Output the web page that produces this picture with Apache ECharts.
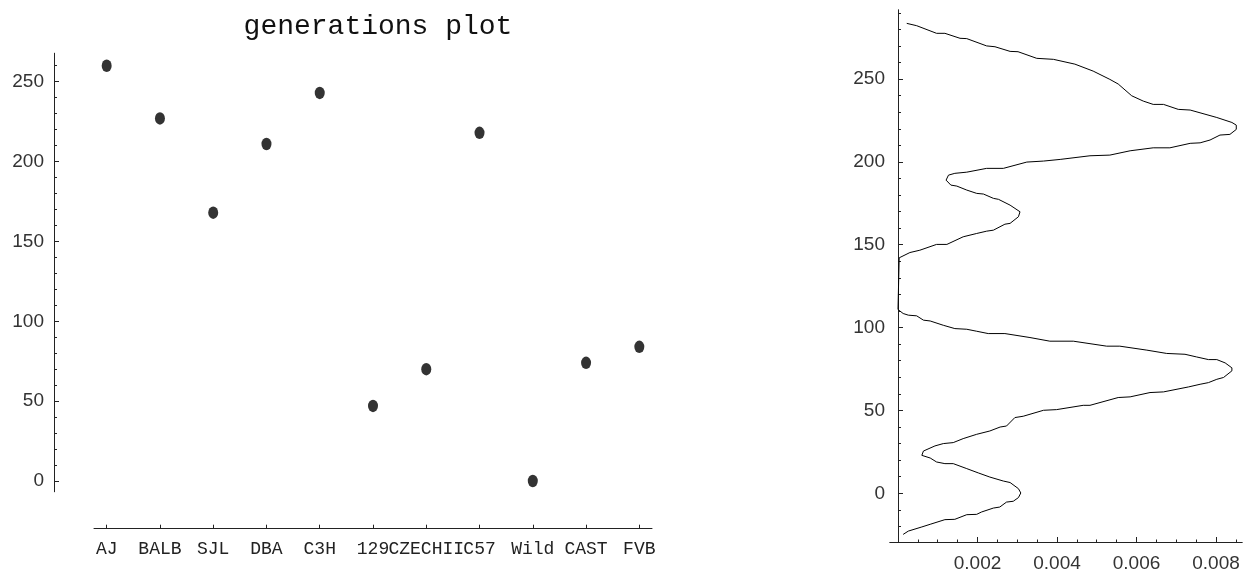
<!DOCTYPE html>
<html>
<head>
<meta charset="utf-8">
<script src="https://cdn.jsdelivr.net/npm/echarts@6/dist/echarts.min.js"></script>
<style>
html,body{margin:0;padding:0;background:#fff;}
#chart{width:1248px;height:573px;}
</style>
</head>
<body>
<div id="chart"></div>
<script>
// ---- data ----
const categories = ['AJ','BALB','SJL','DBA','C3H','129','CZECHII','C57','Wild','CAST','FVB'];
const generations = [260, 227, 168, 211, 243, 47, 70, 218, 0, 74, 84];

const leftYTicks = [0, 50, 100, 150, 200, 250];
const rightYTicks = [0, 50, 100, 150, 200, 250];
const rightXTicks = [0.002, 0.004, 0.006, 0.008];

// density curve (generation value, density)
const densityGen = [283.6,282.2,277.6,277.6,274.6,274.4,270,269.5,266.7,266.5,262.5,261.9,259,254.8,249.8,247,239.9,236.7,234.7,234.7,231.7,231.3,226.8,223.8,222.2,219.6,216.6,216.2,213.2,211.5,211.2,208.5,208.5,206.7,204.1,203.7,201.5,200.5,199.9,196.1,196.1,193.8,193.1,192,189,186,185.4,183,181,180.6,178,177.4,173.9,169.9,166.9,162.9,162.4,158.8,158.2,156.8,154.8,150.2,150.2,146.7,145.3,142.1,
110.9,108.5,107.5,107.1,104.5,104,101.4,99.4,99,97.8,96.4,96.4,94,91.8,91.8,88.8,88.8,86.4,84.4,83.9,82.3,80.7,80.7,78.7,75.7,73.9,69.9,68.8,66.8,65.8,64.2,61.2,60.8,58.2,57.8,53.1,53.1,50.5,50.1,46.5,45.7,40.6,40,37.6,35.6,33,30.6,30,28.6,25.5,22.9,21.3,18.9,17.9,17.9,14.9,12.3,9.8,7.4,6.5,2.8,0.2,-2.6,-4.8,-5.3,-8.3,-8.9,-11.3,-12.7,-12.9,-15.7,-15.9,-18.7,-20.3,-22.8,-24.8];
const densityVal = [0.00022,0.00047,0.00097,0.00118,0.00156,0.00173,0.00223,0.00244,0.00282,0.00302,0.00349,0.00391,0.00445,0.00491,0.00533,0.00554,0.00588,0.00617,0.00642,0.00668,0.00705,0.00735,0.00802,0.0084,0.00851,0.00851,0.00835,0.0081,0.00785,0.0076,0.00735,0.00684,0.00642,0.00584,0.00533,0.00483,0.00408,0.00366,0.00324,0.00265,0.00223,0.00173,0.00143,0.00127,0.00121,0.00133,0.00148,0.00173,0.00198,0.00215,0.0024,0.00253,0.00282,0.00307,0.00303,0.00282,0.00269,0.0024,0.00223,0.00198,0.00164,0.00123,0.00097,0.00055,0.0003,0.00003,
0,0.00013,0.00026,0.00047,0.00064,0.00081,0.00114,0.00143,0.00173,0.00198,0.00227,0.00269,0.00332,0.00382,0.00441,0.00525,0.00558,0.00626,0.00676,0.00722,0.00751,0.00781,0.00802,0.00823,0.0084,0.0084,0.00819,0.00802,0.00781,0.0076,0.00731,0.00668,0.00634,0.00584,0.00554,0.00483,0.00466,0.00399,0.00366,0.00315,0.00294,0.00273,0.00257,0.00231,0.00198,0.00164,0.00139,0.00114,0.00093,0.00064,0.0006,0.00081,0.00097,0.00118,0.00139,0.00173,0.00202,0.00231,0.00265,0.00282,0.00303,0.00309,0.00303,0.0029,0.00273,0.00256,0.0024,0.0021,0.00198,0.00173,0.00143,0.00118,0.00081,0.0006,0.00026,0.00013];

// ---- build ----
const catPos = categories.map((c, i) => i + 1);
const scatterData = categories.map((c, i) => [i + 1, generations[i]]);
const densityData = densityGen.map((g, i) => [densityVal[i], g]);

const leftYMinor = [];
for (let v = 10; v <= 260; v += 10) if (v % 50 !== 0) leftYMinor.push(v);
const rightYMinor = [];
for (let v = -20; v <= 290; v += 10) if (v % 50 !== 0) rightYMinor.push(v);
const rightXMinor = [];
for (let k = 1; k <= 17; k++) if (k % 4 !== 0) rightXMinor.push(+(k * 0.0005).toFixed(4));

const axisColor = '#222';
const lineStyle = { color: axisColor, width: 1 };
const labelFont = { fontFamily: 'Liberation Sans', fontSize: 19, color: '#333' };

const option = {
  animation: false,
  backgroundColor: '#fff',
  title: {
    text: 'generations plot',
    left: 373, top: 8, textAlign: 'center',
    textStyle: { fontFamily: 'Liberation Mono', fontSize: 28, fontWeight: 'normal', color: '#111' }
  },
  grid: [
    { left: 94, top: 53.3, width: 558, height: 438.4 },
    { left: 890, top: 10, width: 352, height: 532 }
  ],
  xAxis: [
    { gridIndex: 0, type: 'value', position: 'bottom', min: 0.762, max: 11.238, offset: 37,
      axisLine: { onZero: false, lineStyle },
      axisTick: { inside: true, length: 4, lineStyle, customValues: catPos },
      axisLabel: { customValues: catPos, formatter: v => categories[Math.round(v) - 1] || '',
        fontFamily: 'Liberation Mono', fontSize: 18, color: '#222', margin: 12 },
      splitLine: { show: false } },
    { gridIndex: 1, type: 'value', position: 'bottom', min: -0.000201, max: 0.008654,
      axisLine: { onZero: false, lineStyle },
      axisTick: { inside: true, length: 5, lineStyle, customValues: rightXTicks },
      axisLabel: Object.assign({ customValues: rightXTicks, formatter: v => v.toFixed(3), margin: 12 }, labelFont),
      splitLine: { show: false } },
    { gridIndex: 1, type: 'value', position: 'bottom', min: -0.000201, max: 0.008654,
      axisLine: { onZero: false, lineStyle },
      axisTick: { inside: true, length: 2.5, lineStyle, customValues: rightXMinor },
      axisLabel: { show: false },
      splitLine: { show: false } }
  ],
  yAxis: [
    { gridIndex: 0, type: 'value', position: 'left', min: -6.70, max: 267.78, offset: 40,
      axisLine: { show: true, onZero: false, lineStyle },
      axisTick: { show: true, inside: true, length: 5, lineStyle, customValues: leftYTicks },
      axisLabel: Object.assign({ customValues: leftYTicks, margin: 10 }, labelFont),
      splitLine: { show: false } },
    { gridIndex: 0, type: 'value', position: 'left', min: -6.70, max: 267.78, offset: 40,
      axisLine: { show: true, onZero: false, lineStyle },
      axisTick: { show: true, inside: true, length: 3, lineStyle, customValues: leftYMinor },
      axisLabel: { show: false },
      splitLine: { show: false } },
    { gridIndex: 1, type: 'value', position: 'left', min: -29.39, max: 291.67,
      axisLine: { show: true, onZero: true, onZeroAxisIndex: 1, lineStyle },
      axisTick: { show: true, inside: true, length: 5, lineStyle, customValues: rightYTicks },
      axisLabel: Object.assign({ customValues: rightYTicks, margin: 5 }, labelFont),
      splitLine: { show: false } },
    { gridIndex: 1, type: 'value', position: 'left', min: -29.39, max: 291.67,
      axisLine: { show: true, onZero: true, onZeroAxisIndex: 1, lineStyle },
      axisTick: { show: true, inside: true, length: 3, lineStyle, customValues: rightYMinor },
      axisLabel: { show: false },
      splitLine: { show: false } }
  ],
  series: [
    { type: 'scatter', xAxisIndex: 0, yAxisIndex: 0, data: scatterData,
      symbol: 'circle', symbolSize: [10, 12.5], itemStyle: { color: '#000' } },
    { type: 'line', xAxisIndex: 1, yAxisIndex: 2, data: densityData,
      showSymbol: false, symbol: 'none', smooth: false,
      lineStyle: { color: '#000', width: 1 } }
  ]
};

const chart = echarts.init(document.getElementById('chart'), null, { renderer: 'canvas' });
chart.setOption(option);
</script>
</body>
</html>
